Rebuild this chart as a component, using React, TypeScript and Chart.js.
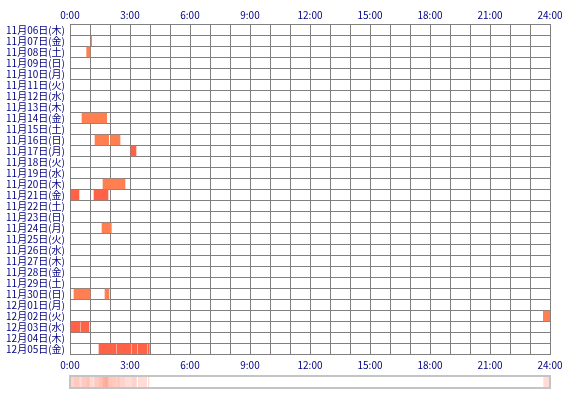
import React, { useEffect, useRef } from "react";
import { Chart, registerables } from "chart.js";

Chart.register(...registerables);

const days = [
  "11月06日(木)", "11月07日(金)", "11月08日(土)", "11月09日(日)", "11月10日(月)",
  "11月11日(火)", "11月12日(水)", "11月13日(木)", "11月14日(金)", "11月15日(土)",
  "11月16日(日)", "11月17日(月)", "11月18日(火)", "11月19日(水)", "11月20日(木)",
  "11月21日(金)", "11月22日(土)", "11月23日(日)", "11月24日(月)", "11月25日(火)",
  "11月26日(水)", "11月27日(木)", "11月28日(金)", "11月29日(土)", "11月30日(日)",
  "12月01日(月)", "12月02日(火)", "12月03日(水)", "12月04日(木)", "12月05日(金)",
];

// session rows (index into days), start / end in minutes, kind (0 = coral, 1 = tomato)
const sessionDay = [1, 2, 8, 10, 10, 11, 14, 15, 15, 18, 24, 24, 26, 27, 27, 29, 29, 29, 29, 29];
const sessionStart = [63, 50, 36, 75, 122, 183, 99, 3, 72, 96, 12, 105, 1420, 3, 33, 87, 141, 186, 204, 234];
const sessionEnd = [65, 60, 110, 116, 150, 198, 165, 27, 114, 124, 60, 117, 1440, 30, 57, 138, 183, 201, 231, 238];
const sessionKind = [0, 0, 0, 0, 0, 1, 0, 1, 1, 0, 0, 0, 0, 1, 1, 1, 1, 1, 1, 1];

const kindColors = ["#FF7F50", "#FF6347"];
const tickHours = [0, 3, 6, 9, 12, 15, 18, 21, 24];

const NAVY = "#000080";
const GRID = "#808080";
const FONT = '"Noto Sans CJK JP", sans-serif';

function buildData(kind: number) {
  const out: { x: [number, number]; y: string }[] = [];
  for (let i = 0; i < sessionDay.length; i++) {
    if (sessionKind[i] !== kind) continue;
    out.push({ x: [sessionStart[i] / 60, sessionEnd[i] / 60], y: days[sessionDay[i]] });
  }
  return out;
}

const stripPlugin = {
  id: "heatStrip",
  afterDraw(chart: any) {
    const ctx = chart.ctx;
    const xs = chart.scales.x;
    const counts = new Array(1440).fill(0);
    for (let i = 0; i < sessionDay.length; i++) {
      for (let m = sessionStart[i]; m < sessionEnd[i]; m++) counts[m]++;
    }
    const max = Math.max(...counts);
    const top = 377;
    const h = 10;
    ctx.save();
    ctx.fillStyle = "#ffffff";
    ctx.fillRect(xs.left, top, xs.right - xs.left, h);
    for (let m = 0; m < 1440; m++) {
      if (!counts[m]) continue;
      const a = 0.15 + 0.55 * (counts[m] / max);
      ctx.fillStyle = `rgba(255,99,71,${a})`;
      const x0 = xs.getPixelForValue(m / 60);
      const x1 = xs.getPixelForValue((m + 1) / 60);
      ctx.fillRect(x0, top, x1 - x0, h);
    }
    ctx.strokeStyle = "#c4c4c4";
    ctx.lineWidth = 2;
    ctx.strokeRect(xs.left, top - 1, xs.right - xs.left, h + 2);
    ctx.restore();
  },
};

export default function App() {
  const ref = useRef<HTMLCanvasElement>(null);
  useEffect(() => {
    if (!ref.current) return;
    const tickLabel = (v: any) => (tickHours.includes(Number(v)) ? `${v}:00` : "");
    const chart = new Chart(ref.current, {
      type: "bar",
      data: {
        labels: days,
        datasets: [
          { data: buildData(0) as any, backgroundColor: kindColors[0], borderWidth: 0, barThickness: 10, grouped: false },
          { data: buildData(1) as any, backgroundColor: kindColors[1], borderWidth: 0, barThickness: 10, grouped: false },
        ],
      },
      options: {
        indexAxis: "y",
        animation: false,
        responsive: false,
        devicePixelRatio: 1,
        layout: { padding: { left: 0, right: 20, top: 0, bottom: 0 } },
        plugins: { legend: { display: false }, tooltip: { enabled: false } },
        scales: {
          y: {
            type: "category",
            labels: days,
            grid: { color: GRID, lineWidth: 1, drawTicks: false, offset: true },
            border: { color: GRID, width: 1 },
            ticks: { color: NAVY, font: { family: FONT, size: 10 }, padding: 5, autoSkip: false },
            afterFit: (s: any) => { s.width = 70; },
          },
          x: {
            type: "linear",
            position: "bottom",
            min: 0,
            max: 24,
            grid: { color: GRID, lineWidth: 1, drawTicks: false },
            border: { color: GRID, width: 1 },
            ticks: { stepSize: 1, autoSkip: false, maxRotation: 0, color: NAVY, font: { family: FONT, size: 10 }, padding: 5, callback: tickLabel },
            afterFit: (s: any) => { s.height = 45.5; },
          },
          x2: {
            type: "linear",
            position: "top",
            min: 0,
            max: 24,
            grid: { display: false, drawTicks: false },
            border: { color: GRID, width: 1 },
            ticks: { stepSize: 1, autoSkip: false, maxRotation: 0, color: NAVY, font: { family: FONT, size: 10 }, padding: 3, callback: tickLabel },
            afterFit: (s: any) => { s.height = 24.5; },
          },
        },
      },
      plugins: [stripPlugin],
    });
    return () => chart.destroy();
  }, []);
  return (
    <div style={{ position: "fixed", left: 0, top: 0, width: 570, height: 400, background: "#fff" }}>
      <canvas ref={ref} width={570} height={400} style={{ width: 570, height: 400, display: "block" }} />
    </div>
  );
}
